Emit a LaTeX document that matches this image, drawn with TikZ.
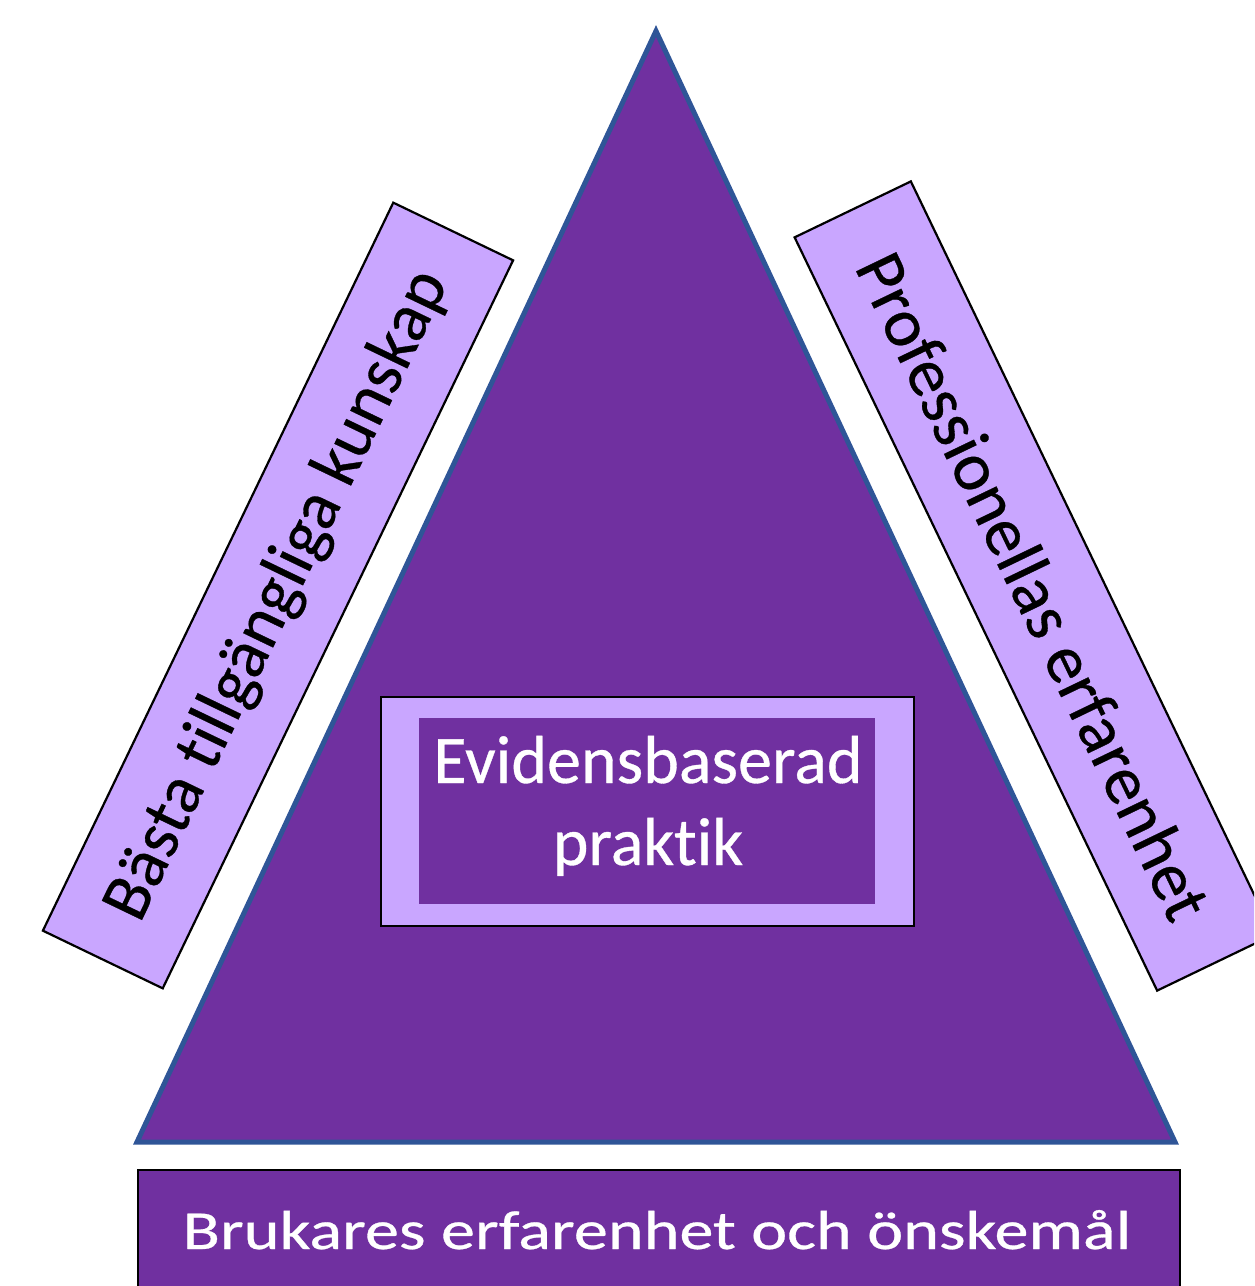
\documentclass[tikz,border=0pt]{standalone}
\usepackage{fontspec}
\setmainfont{Carlito}[Ligatures=NoCommon,FakeBold=0.5]
\definecolor{epurple}{RGB}{112,48,160}
\definecolor{elight}{RGB}{201,166,255}
\definecolor{eblue}{RGB}{47,85,151}
\begin{document}
\begin{tikzpicture}[x=1pt,y=-1pt,
  sidebar/.style={draw=black,line width=2.2pt,fill=elight,inner sep=0pt,
    font=\fontsize{69}{75}\selectfont,text=black},
  whitetext/.style={text=white,inner sep=0pt,align=center}]
\useasboundingbox (0,0) rectangle (1254,1286);
\clip (0,0) rectangle (1254,1286);
% triangle
\coordinate (apex) at (656,31);
\coordinate (bl) at (137,1142);
\coordinate (br) at (1175,1142);
\draw[eblue,line width=5pt,fill=epurple,line join=miter] (apex) -- (bl) -- (br) -- cycle;
% side bars
\node[sidebar,minimum width=808pt,minimum height=133pt,rotate=64.3] (left) at (278,595.5) {Bästa tillgängliga kunskap};
\node[sidebar,minimum width=836pt,minimum height=129pt,rotate=-64.3] (right) at (1034,586) {Professionellas erfarenhet};
% centre box
\node[draw=black,line width=1.8pt,fill=elight,minimum width=533pt,minimum height=229pt,inner sep=0pt] (outer) at (647.5,811.5) {};
\node[fill=epurple,minimum width=456pt,minimum height=186pt,inner sep=0pt] (inner) at (647,811) {};
\node[whitetext,font=\fontsize{68}{82}\selectfont,anchor=base] (ebp) at (648,865) {Evidensbaserad\\praktik};
% bottom bar
\node[draw=black,line width=1.8pt,fill=epurple,minimum width=1042pt,minimum height=140pt,inner sep=0pt,anchor=north west] (bottom) at (137,1169) {};
\node[whitetext,anchor=base,font=\fontsize{55}{60}\selectfont] (btext) at (657,1249) {\scalebox{1.24}[1]{Brukares erfarenhet och önskemål}};
\end{tikzpicture}
\end{document}
